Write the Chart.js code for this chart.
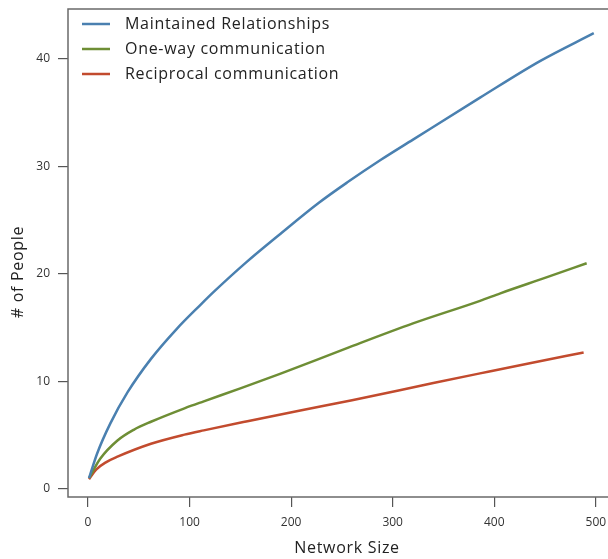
<!DOCTYPE html>
<html>
<head>
<meta charset="utf-8">
<script src="https://cdn.jsdelivr.net/npm/chart.js@4.4.0/dist/chart.umd.min.js"></script>
<style>
html, body { margin: 0; padding: 0; background: #fff; }
#wrap { width: 608px; height: 559px; }
</style>
</head>
<body>
<div id="wrap"><canvas id="networkChart" width="608" height="559"></canvas></div>
<script>
var seriesNames = ["Maintained Relationships", "One-way communication", "Reciprocal communication"];
var seriesColors = ['#4a80b0', '#6e8e35', '#c24b2e'];

var maintainedSize   = [1, 9, 22, 39, 62, 87, 111, 124, 156, 189, 227, 255, 288, 320, 386, 445, 498];
var maintainedPeople = [1.0, 3.3, 6.1, 9.0, 12.1, 14.85, 17.15, 18.35, 21.1, 23.7, 26.6, 28.5, 30.6, 32.5, 36.4, 39.8, 42.4];

var oneWaySize   = [1, 12, 29, 45, 62, 95, 114, 150, 189, 255, 320, 386, 406, 452, 491];
var oneWayPeople = [1.0, 2.8, 4.5, 5.5, 6.25, 7.5, 8.15, 9.35, 10.7, 13.1, 15.4, 17.5, 18.2, 19.7, 21.0];

var reciprocalSize   = [1, 8, 18, 29, 62, 95, 114, 157, 209, 260, 340, 386, 435, 488];
var reciprocalPeople = [0.9, 1.8, 2.5, 3.0, 4.2, 5.05, 5.45, 6.3, 7.3, 8.25, 9.85, 10.75, 11.7, 12.7];

var xTicks = [0, 100, 200, 300, 400, 500];
var yTicks = [0, 10, 20, 30, 40];

function toPoints(xs, ys) {
  return xs.map(function (x, i) { return { x: x, y: ys[i] }; });
}

var seriesData = [
  toPoints(maintainedSize, maintainedPeople),
  toPoints(oneWaySize, oneWayPeople),
  toPoints(reciprocalSize, reciprocalPeople)
];

var fontFamily = "'Open Sans', 'DejaVu Sans', sans-serif";

// frame, axis titles and the legend in the top-left corner
var framePlugin = {
  id: 'framePlugin',
  beforeDatasetsDraw: function (chart) {
    var a = chart.chartArea, ctx = chart.ctx;
    ctx.save();
    ctx.strokeStyle = '#6a6a6a';
    ctx.lineWidth = 1.5;
    ctx.beginPath();
    ctx.moveTo(a.right + 2, a.top);
    ctx.lineTo(a.left, a.top);
    ctx.lineTo(a.left, a.bottom);
    ctx.lineTo(a.right + 2, a.bottom);
    ctx.stroke();
    ctx.restore();
  },
  afterDraw: function (chart) {
    var ctx = chart.ctx;
    ctx.save();
    ctx.fillStyle = '#222';
    ctx.font = "16px " + fontFamily;
    ctx.letterSpacing = '0.7px';
    ctx.textAlign = 'center';
    ctx.textBaseline = 'middle';
    ctx.fillText('Network Size', 347, 548);
    ctx.translate(18, 272);
    ctx.rotate(-Math.PI / 2);
    ctx.fillText('# of People', 0, 0);
    ctx.restore();

    ctx.save();
    ctx.font = "16px " + fontFamily;
    ctx.letterSpacing = '0.7px';
    ctx.textAlign = 'left';
    ctx.textBaseline = 'middle';
    chart.data.datasets.forEach(function (ds, i) {
      var y = 24 + i * 25;
      ctx.strokeStyle = ds.borderColor;
      ctx.lineWidth = 2.5;
      ctx.beginPath();
      ctx.moveTo(82, y);
      ctx.lineTo(110, y);
      ctx.stroke();
      ctx.fillStyle = '#222';
      ctx.fillText(ds.label, 125, y);
    });
    ctx.restore();
  }
};

var ctx = document.getElementById("networkChart");
var networkChart = new Chart(ctx, {
  type: 'line',
  data: {
    datasets: seriesNames.map(function (name, i) {
      return {
        label: name,
        data: seriesData[i],
        borderColor: seriesColors[i],
        backgroundColor: seriesColors[i],
        borderWidth: 2.5,
        pointRadius: 0,
        cubicInterpolationMode: 'monotone',
        fill: false
      };
    })
  },
  options: {
    responsive: false,
    animation: false,
    layout: { padding: { top: 9, right: 0, left: 0, bottom: 0 } },
    plugins: {
      legend: { display: false },
      tooltip: { enabled: false }
    },
    scales: {
      x: {
        type: 'linear',
        min: -19.7,
        max: 512,
        afterBuildTicks: function (scale) {
          scale.ticks = xTicks.map(function (v) { return { value: v }; });
        },
        afterFit: function (scale) {
          scale.height = 62;
          scale.paddingLeft = 0;
          scale.paddingRight = 0;
        },
        border: { display: false },
        grid: { drawOnChartArea: false, drawTicks: true, tickLength: 10, color: '#555', lineWidth: 1.2 },
        ticks: { padding: 8, color: '#333', font: { family: fontFamily, size: 12 }, maxRotation: 0 }
      },
      y: {
        type: 'linear',
        min: -0.75,
        max: 44.65,
        afterBuildTicks: function (scale) {
          scale.ticks = yTicks.map(function (v) { return { value: v }; });
        },
        afterFit: function (scale) {
          scale.width = 68;
          scale.paddingTop = 0;
          scale.paddingBottom = 0;
        },
        border: { display: false },
        grid: { drawOnChartArea: false, drawTicks: true, tickLength: 10, color: '#555', lineWidth: 1.2 },
        ticks: { padding: 8, color: '#333', font: { family: fontFamily, size: 12 } }
      }
    }
  },
  plugins: [framePlugin]
});
</script>
</body>
</html>
